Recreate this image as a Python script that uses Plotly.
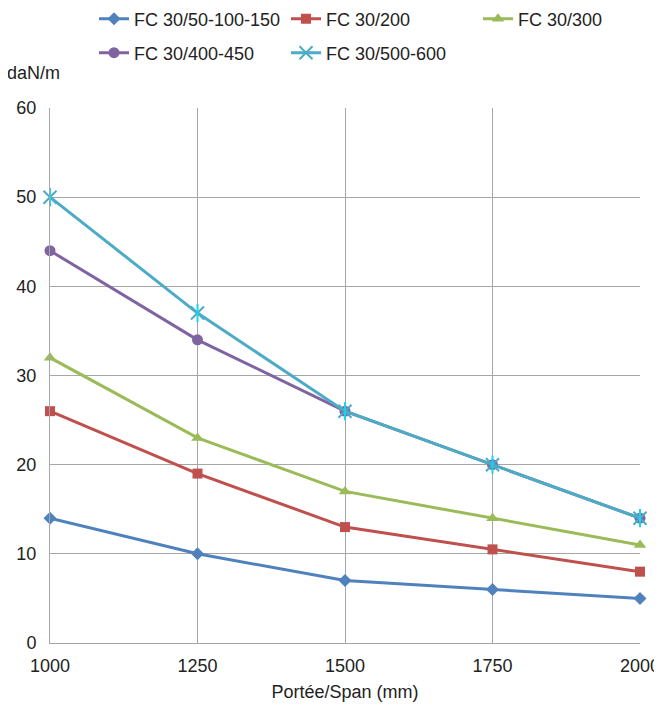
import plotly.graph_objects as go

spans = [1000, 1250, 1500, 1750, 2000]
fc_50_150 = [14, 10, 7, 6, 5]
fc_200 = [26, 19, 13, 10.5, 8]
fc_300 = [32, 23, 17, 14, 11]
fc_400_450 = [44, 34, 26, 20, 14]
fc_500_600 = [50, 37, 26, 20, 14]

names = ["FC 30/50-100-150", "FC 30/200", "FC 30/300", "FC 30/400-450", "FC 30/500-600"]
colors = ["#4F81BD", "#C0504D", "#9BBB59", "#8064A2", "#4BACC6"]
symbols = ["diamond", "square", "triangle-up", "circle", "x-thin-open"]
sizes = [10, 10, 11, 11, 13]
legends = ["legend", "legend", "legend", "legend2", "legend2"]
series = [fc_50_150, fc_200, fc_300, fc_400_450, fc_500_600]

FONT = "Liberation Sans, Arial, sans-serif"
FS = 18
W, H = 654, 699  # page body adds an 8px margin in the browser

fig = go.Figure()
for name, col, sym, sz, lg, vals in zip(names, colors, symbols, sizes, legends, series):
    mk = dict(symbol=sym, size=sz, color=col)
    if sym.endswith("open"):
        mk["line"] = dict(color=col, width=2)
    fig.add_trace(go.Scatter(
        x=spans, y=vals, name=name, mode="lines+markers",
        line=dict(color=col, width=3), marker=mk, legend=lg, cliponaxis=False,
    ))
# vertical bar of the star marker
fig.add_trace(go.Scatter(
    x=spans, y=fc_500_600, mode="markers", showlegend=False, cliponaxis=False,
    marker=dict(symbol="line-ns-open", size=13, line=dict(color=colors[4], width=2)),
    hoverinfo="skip",
))

leg_common = dict(orientation="h", xref="container", yref="container",
                  xanchor="left", yanchor="middle", entrywidth=147,
                  font=dict(size=FS), bgcolor="rgba(0,0,0,0)", itemwidth=30)

fig.update_layout(
    width=W, height=H,
    margin=dict(l=42, r=22, t=100, b=64, autoexpand=False),
    paper_bgcolor="white", plot_bgcolor="white",
    font=dict(family=FONT, size=FS, color="#222222"),
    legend=dict(x=86 / W, y=1 - 11 / H, **leg_common),
    legend2=dict(x=86 / W, y=1 - 45 / H, **leg_common),
    xaxis=dict(range=[1000, 2000], tickvals=spans, ticktext=[str(s) for s in spans],
               showgrid=True, gridcolor="#A6A6A6", gridwidth=1,
               showline=True, linecolor="#A6A6A6", linewidth=1,
               zeroline=False, ticks="", ticklabelstandoff=6,
               title=dict(text="Portée/Span (mm)", font=dict(size=FS), standoff=10)),
    yaxis=dict(range=[0, 60], tickvals=[0, 10, 20, 30, 40, 50, 60],
               showgrid=True, gridcolor="#A6A6A6", gridwidth=1,
               showline=True, linecolor="#A6A6A6", linewidth=1,
               zeroline=False, ticks="", ticklabelstandoff=9),
    annotations=[dict(text="daN/m", x=-45 / 590, y=(635 - 65) / 535,
                      xref="paper", yref="paper", xanchor="left", yanchor="middle",
                      showarrow=False, font=dict(size=FS))],
)

fig.write_html("out.html")
